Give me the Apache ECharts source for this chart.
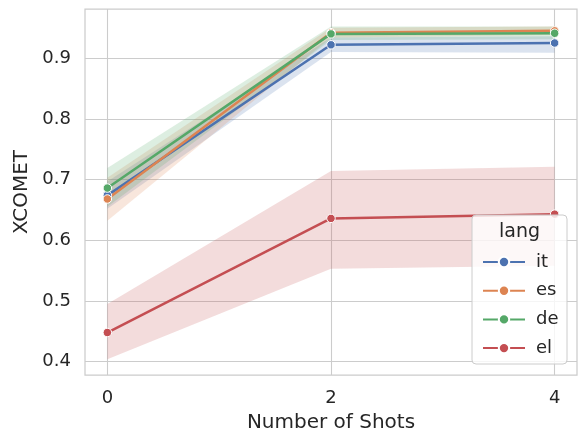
<!DOCTYPE html>
<html>
<head>
<meta charset="utf-8">
<script src="https://cdn.jsdelivr.net/npm/echarts@6/dist/echarts.min.js"></script>
<style>
  html, body { margin: 0; padding: 0; background: #fff; }
  #chart { width: 580px; height: 432px; }
</style>
</head>
<body>
<div id="chart"></div>
<script>
// Number of few-shot examples on the x axis
const shots = [0, 2, 4];

// Mean XCOMET per language
const itMean = [0.674, 0.922, 0.925];
const esMean = [0.668, 0.942, 0.945];
const deMean = [0.686, 0.940, 0.941];
const elMean = [0.448, 0.636, 0.643];

// Confidence interval bounds per language
const itLow  = [0.652, 0.910, 0.909];
const itHigh = [0.697, 0.934, 0.936];
const esLow  = [0.632, 0.934, 0.938];
const esHigh = [0.703, 0.950, 0.952];
const deLow  = [0.655, 0.930, 0.931];
const deHigh = [0.719, 0.952, 0.952];
const elLow  = [0.404, 0.553, 0.558];
const elHigh = [0.495, 0.714, 0.721];

const langs = ['it', 'es', 'de', 'el'];
const yTicks = [0.4, 0.5, 0.6, 0.7, 0.8, 0.9];
const xTicks = [0, 2, 4];

const colors = { it: '#4C72B0', es: '#DD8452', de: '#55A868', el: '#C44E52' };
const means = { it: itMean, es: esMean, de: deMean, el: elMean };
const lows = { it: itLow, es: esLow, de: deLow, el: elLow };
const highs = { it: itHigh, es: esHigh, de: deHigh, el: elHigh };

const FONT = 'DejaVu Sans';
const TEXT = '#262626';

function hexToRgba(hex, a) {
  const n = parseInt(hex.slice(1), 16);
  return `rgba(${(n >> 16) & 255},${(n >> 8) & 255},${n & 255},${a})`;
}

// One quad per segment between consecutive shot counts
function bandData(lo, hi) {
  const out = [];
  for (let i = 0; i < shots.length - 1; i++) {
    out.push([shots[i], lo[i], hi[i], shots[i + 1], lo[i + 1], hi[i + 1]]);
  }
  return out;
}

function bandSeries(lang) {
  const fill = hexToRgba(colors[lang], 0.2);
  return {
    type: 'custom',
    name: lang + '-ci',
    z: 1,
    silent: true,
    clip: true,
    data: bandData(lows[lang], highs[lang]),
    encode: { x: [0, 3], y: [1, 2, 4, 5] },
    renderItem: function (params, api) {
      const a = api.coord([api.value(0), api.value(1)]);
      const b = api.coord([api.value(0), api.value(2)]);
      const c = api.coord([api.value(3), api.value(5)]);
      const d = api.coord([api.value(3), api.value(4)]);
      return {
        type: 'polygon',
        shape: { points: [a, b, c, d] },
        style: { fill: fill }
      };
    }
  };
}

function lineSeries(lang) {
  return {
    type: 'line',
    name: lang,
    z: 3,
    data: shots.map((x, i) => [x, means[lang][i]]),
    color: colors[lang],
    lineStyle: { width: 2.5, color: colors[lang] },
    symbol: 'circle',
    symbolSize: 8.5,
    itemStyle: { color: colors[lang], borderColor: '#ffffff', borderWidth: 1 },
    emphasis: { disabled: true }
  };
}

const series = [];
langs.forEach(l => { series.push(lineSeries(l)); series.push(bandSeries(l)); });

const chart = echarts.init(document.getElementById('chart'), null, { renderer: 'canvas' });

chart.setOption({
  animation: false,
  backgroundColor: '#ffffff',
  grid: {
    left: 85, right: 3, top: 9, bottom: 57,
    outerBoundsMode: 'none',
    containLabel: false,
    show: true, borderColor: '#cccccc', borderWidth: 1.25, backgroundColor: '#ffffff'
  },
  xAxis: {
    type: 'value',
    min: -0.2, max: 4.2,
    name: 'Number of Shots',
    nameLocation: 'middle',
    nameGap: 38,
    nameTextStyle: { fontFamily: FONT, fontSize: 20, color: TEXT },
    axisLine: { show: false },
    axisTick: { show: false, customValues: xTicks },
    axisLabel: {
      customValues: xTicks, fontFamily: FONT, fontSize: 18, color: TEXT, margin: 14,
      formatter: v => String(v)
    },
    splitLine: { show: true, lineStyle: { color: '#cccccc', width: 1.1 } }
  },
  yAxis: {
    type: 'value',
    min: 0.378, max: 0.981,
    name: 'XCOMET',
    nameLocation: 'middle',
    nameGap: 53,
    nameTextStyle: { fontFamily: FONT, fontSize: 20, color: TEXT },
    axisLine: { show: false },
    axisTick: { show: false, customValues: yTicks },
    axisLabel: {
      customValues: yTicks, fontFamily: FONT, fontSize: 18, color: TEXT, margin: 14,
      formatter: v => v.toFixed(1)
    },
    splitLine: { show: true, lineStyle: { color: '#cccccc', width: 1.1 } }
  },
  legend: {
    data: langs,
    orient: 'vertical',
    left: 477,
    top: 248,
    itemWidth: 42,
    itemHeight: 13,
    itemGap: 10.7,
    selectedMode: false,
    z: 6,
    textStyle: { fontFamily: FONT, fontSize: 18, color: TEXT, padding: [0, 0, 0, 6] }
  },
  graphic: [
    {
      type: 'rect',
      z: 5,
      shape: { x: 472, y: 215, width: 95, height: 149, r: 4 },
      style: { fill: 'rgba(255,255,255,0.8)', stroke: '#cccccc', lineWidth: 1 }
    },
    {
      type: 'text',
      z: 6,
      x: 519.5, y: 232,
      style: {
        text: 'lang', fontFamily: FONT, fontSize: 19, fill: TEXT,
        align: 'center', verticalAlign: 'middle'
      }
    }
  ],
  series: series
});
</script>
</body>
</html>
